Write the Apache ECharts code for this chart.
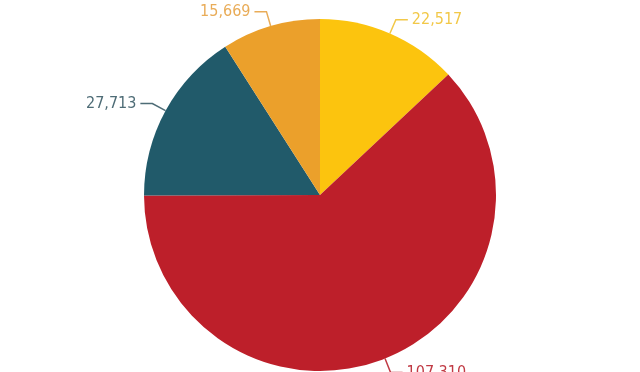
<!DOCTYPE html>
<html>
<head>
<meta charset="utf-8">
<script src="https://cdn.jsdelivr.net/npm/echarts@6/dist/echarts.min.js"></script>
<style>html,body{margin:0;padding:0;background:#fff;}#c{width:640px;height:372px;}</style>
</head>
<body>
<div id="c"></div>
<script>
const categories = ['A', 'B', 'C', 'D'];
const values = [22517, 107310, 27713, 15669];
const labels = ['22,517', '107,310', '27,713', '15,669'];
const sliceColors = ['#FCC40E', '#BD1F2A', '#215A6A', '#EBA02B'];
const labelColors = ['#F2C848', '#C03A44', '#4E6C76', '#E9AC58'];

const chart = echarts.init(document.getElementById('c'), null, {renderer: 'canvas'});
chart.setOption({
  animation: false,
  series: [{
    type: 'pie',
    center: [320, 195],
    radius: [0, 176],
    startAngle: 90,
    clockwise: true,
    avoidLabelOverlap: false,
    data: categories.map((c, i) => ({
      name: c,
      value: values[i],
      itemStyle: {color: sliceColors[i]},
      label: {color: labelColors[i]},
      labelLine: {lineStyle: {color: labelColors[i]}}
    })),
    label: {
      show: true,
      position: 'outside',
      formatter: p => labels[p.dataIndex],
      fontFamily: '"DejaVu Sans Condensed", "Liberation Sans Narrow", sans-serif',
      fontSize: 16,
      distanceToLabelLine: 4
    },
    labelLine: {show: true, length: 15, length2: 12, smooth: false, lineStyle: {width: 1.5}},
    emphasis: {disabled: true}
  }]
});
</script>
</body>
</html>
